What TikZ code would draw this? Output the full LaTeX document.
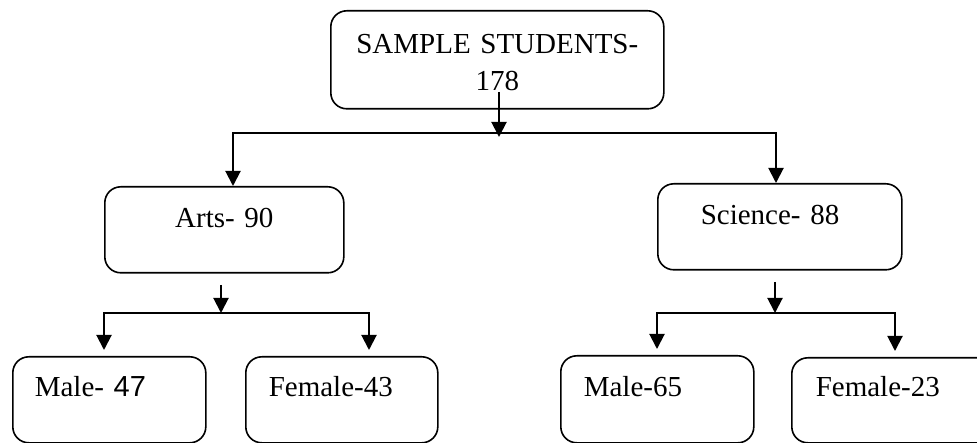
\documentclass[tikz,border=0pt]{standalone}
\usepackage{fontspec}
\setmainfont{Liberation Serif}
\newfontfamily\arialfont{Liberation Sans}
\usetikzlibrary{arrows.meta}

\begin{document}
\begin{tikzpicture}[x=1pt, y=-1pt, font=\fontsize{29}{37}\selectfont,
  box/.style={draw, line width=1.6pt, rounded corners=16pt, anchor=north west,
    inner ysep=0pt, align=left, text height=40pt, text depth=46pt},
  arrow/.style={line width=2pt, -{Triangle[width=15pt,length=15pt]}},
  fork/.style={line width=2pt, {Triangle[width=15pt,length=15pt]}-{Triangle[width=15pt,length=15pt]}}]
\useasboundingbox (0,0) rectangle (977,443);

\node[box, align=center, inner xsep=20pt, text width=293pt, text height=43pt, text depth=55pt] (sample) at (330,10) {SAMPLE STUDENTS-\\178};

\node[box, align=center, inner xsep=20pt, text width=199pt, text height=41pt, text depth=45pt] (arts) at (104,186) {Arts- 90};
\node[box, inner xsep=43pt, text width=158pt, text height=41pt, text depth=45pt] (sci) at (657,183) {Science- 88};

\node[box, inner xsep=22pt, text width=149pt] (artsmale) at (12,356) {Male- {\arialfont 47}};
\node[box, inner xsep=23pt, text width=146pt] (artsfemale) at (245,356) {Female-43};
\node[box, inner xsep=23pt, text width=147pt, text height=41pt] (scimale) at (560,355) {Male-65};
\node[box, inner xsep=24pt, text width=190pt, text height=39pt] (scifemale) at (791,357) {Female-23};

\coordinate (sampleout) at (499,92);
\coordinate (splitL) at (233,133);
\coordinate (splitR) at (776,133);
\draw[arrow] (sampleout) -- ([yshift=-4pt]sampleout |- splitL);
\draw[fork] (splitL |- arts.north) -- (splitL) -- (splitR) -- (splitR |- sci.north);

\coordinate (artsout) at (221,285);
\coordinate (artsL) at (104,313);
\coordinate (artsR) at (369,313);
\draw[arrow] (artsout) -- (artsout |- artsL);
\draw[fork] ([yshift=6pt]artsL |- artsmale.north) -- (artsL) -- (artsR) -- ([yshift=6pt]artsR |- artsfemale.north);

\coordinate (sciout) at (775,282);
\coordinate (sciL) at (657,313);
\coordinate (sciR) at (895,313);
\draw[arrow] (sciout) -- (sciout |- sciL);
\draw[fork] ([yshift=6pt]sciL |- scimale.north) -- (sciL) -- (sciR) -- ([yshift=6pt]sciR |- scifemale.north);
\end{tikzpicture}
\end{document}
